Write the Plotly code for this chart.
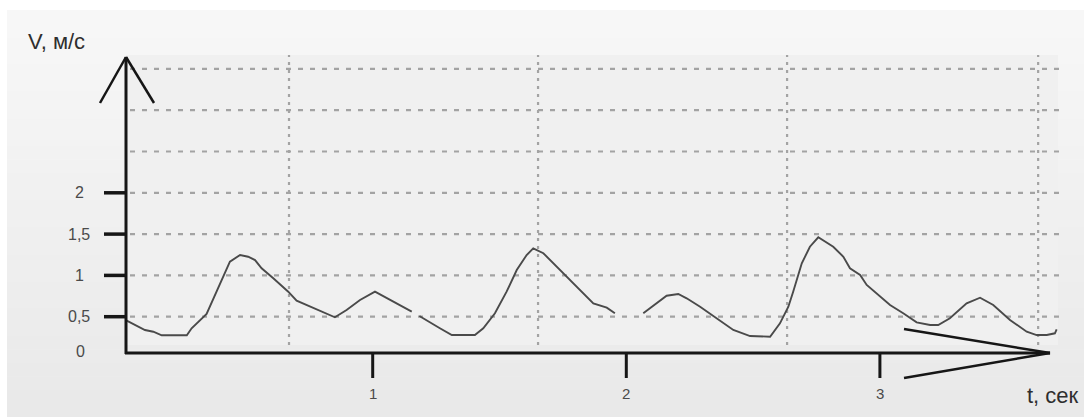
import plotly.graph_objects as go

# ---- data ----
T = [0.030, 0.056, 0.102, 0.135, 0.168, 0.267, 0.286, 0.345, 0.385, 0.411,
     0.437, 0.477, 0.509, 0.536, 0.562, 0.608, 0.667, 0.700, 0.766, 0.851,
     0.897, 0.950, 1.009, 1.081, 1.154, None,
     1.184, 1.213, 1.265, 1.312, 1.403, 1.436, 1.482, 1.528, 1.568, 1.607,
     1.633, 1.673, 1.726, 1.791, 1.870, 1.923, 1.955, None,
     2.067, 2.106, 2.159, 2.205, 2.238, 2.291, 2.343, 2.422, 2.488, 2.567,
     2.606, 2.639, 2.658, 2.692, 2.724, 2.757, 2.816, 2.856, 2.882, 2.922,
     2.948, 2.987, 3.040, 3.092, 3.145, 3.198, 3.230, 3.276, 3.342, 3.395,
     3.447, 3.513, 3.579, 3.618, 3.658, 3.690, 3.697]
V = [0.452, 0.408, 0.339, 0.318, 0.275, 0.275, 0.360, 0.533, 0.803, 0.984,
     1.166, 1.247, 1.226, 1.186, 1.086, 0.965, 0.803, 0.694, 0.602, 0.493,
     0.581, 0.702, 0.803, 0.682, 0.561, None,
     0.508, 0.452, 0.360, 0.278, 0.278, 0.360, 0.541, 0.803, 1.065, 1.247,
     1.328, 1.268, 1.105, 0.904, 0.662, 0.609, 0.541, None,
     0.541, 0.633, 0.754, 0.775, 0.723, 0.621, 0.512, 0.339, 0.266, 0.258,
     0.420, 0.621, 0.803, 1.146, 1.347, 1.461, 1.347, 1.226, 1.086, 1.005,
     0.884, 0.783, 0.642, 0.541, 0.432, 0.400, 0.400, 0.481, 0.662, 0.730,
     0.642, 0.460, 0.318, 0.278, 0.278, 0.299, 0.347]

X_TICKS = [1, 2, 3]
X_TICK_LABELS = ["1", "2", "3"]
Y_TICKS = [0.5, 1, 1.5, 2]
Y_TICK_LABELS = ["0,5", "1", "1,5", "2"]
ZERO_LABEL = "0"
GRID_V = [0.5, 1, 1.5, 2, 2.5, 3, 3.5]
GRID_T = [0.670, 1.652, 2.634, 3.624]
X_TITLE = "t, сек"
Y_TITLE = "V, м/с"

# ---- layout helpers ----
W, H = 1084, 417
X0PX, XSCALE = 119.1, 253.6   # pixel of t=0, pixels per second
Y0PX, YSCALE = 358.0, 82.6    # pixel of v=0, pixels per m/s
XRANGE = [(0 - X0PX) / XSCALE, (W - X0PX) / XSCALE]
YRANGE = [(Y0PX - H) / YSCALE, Y0PX / YSCALE]


def px(x):
    return x / W


def py(y):
    return 1 - y / H


FONT = "Liberation Sans, Arial, sans-serif"
AXIS_COL = "#161616"
GRID_COL = "#a3a3a3"

shapes = []
# white page + gray gradient panel
shapes.append(dict(type="rect", xref="paper", yref="paper", x0=0, x1=1, y0=0, y1=1,
                   fillcolor="white", line=dict(width=0), layer="below"))
N = 30
top, bot = 10, H
for i in range(N):
    y0 = top + (bot - top) * i / N
    y1 = top + (bot - top) * (i + 1) / N
    c = int(round(247 - (247 - 233) * i / (N - 1)))
    shapes.append(dict(type="rect", xref="paper", yref="paper",
                       x0=px(7), x1=1, y0=py(y1 + 0.5), y1=py(y0),
                       fillcolor=f"rgb({c},{c},{c})", line=dict(width=0), layer="below"))
# plot area
shapes.append(dict(type="rect", xref="paper", yref="paper",
                   x0=px(126), x1=px(1058), y0=py(345), y1=py(55),
                   fillcolor="#f0f0f0", line=dict(width=0), layer="below"))
# grid lines
for g in GRID_V:
    shapes.append(dict(type="line", xref="paper", yref="y", x0=px(130), x1=px(1060),
                       y0=g, y1=g, line=dict(color=GRID_COL, width=2.2, dash="5px,7px"),
                       layer="below"))
for g in GRID_T:
    shapes.append(dict(type="line", xref="x", yref="paper", x0=g, x1=g,
                       y0=py(345), y1=py(55), line=dict(color=GRID_COL, width=2.2, dash="3px,5px"),
                       layer="below"))

# axes (drawn as arrows)
AX_Y = 353  # pixel row of the time axis
AX_X = 126  # pixel column of the speed axis
shapes += [
    dict(type="line", xref="paper", yref="paper", x0=px(AX_X), x1=px(AX_X), y0=py(AX_Y + 1), y1=py(57),
         line=dict(color=AXIS_COL, width=3)),
    dict(type="line", xref="paper", yref="paper", x0=px(AX_X), x1=px(100), y0=py(57), y1=py(103),
         line=dict(color=AXIS_COL, width=2.5)),
    dict(type="line", xref="paper", yref="paper", x0=px(AX_X), x1=px(154), y0=py(57), y1=py(103),
         line=dict(color=AXIS_COL, width=2.5)),
    dict(type="line", xref="paper", yref="paper", x0=px(AX_X - 1), x1=px(1050), y0=py(AX_Y), y1=py(AX_Y),
         line=dict(color=AXIS_COL, width=3)),
    dict(type="line", xref="paper", yref="paper", x0=px(904), x1=px(1050), y0=py(329), y1=py(AX_Y),
         line=dict(color=AXIS_COL, width=2.5)),
    dict(type="line", xref="paper", yref="paper", x0=px(904), x1=px(1050), y0=py(378), y1=py(AX_Y),
         line=dict(color=AXIS_COL, width=2.5)),
]
for t in X_TICKS:
    shapes.append(dict(type="line", xref="x", yref="paper", x0=t, x1=t, y0=py(AX_Y), y1=py(378),
                       line=dict(color=AXIS_COL, width=3)))
for v in Y_TICKS:
    shapes.append(dict(type="line", xref="paper", yref="y", x0=px(104), x1=px(AX_X), y0=v, y1=v,
                       line=dict(color=AXIS_COL, width=3.5)))

annotations = []
for t, lab in zip(X_TICKS, X_TICK_LABELS):
    annotations.append(dict(xref="x", yref="paper", x=t, y=py(393), text=lab, showarrow=False,
                            xanchor="center", yanchor="middle",
                            font=dict(family=FONT, size=15, color="#4a4a4a")))
for v, lab in zip(Y_TICKS, Y_TICK_LABELS):
    annotations.append(dict(xref="paper", yref="y", x=px(79), y=v, text=lab, showarrow=False,
                            xanchor="center", yanchor="middle",
                            font=dict(family=FONT, size=16, color="#4a4a4a")))
annotations.append(dict(xref="paper", yref="paper", x=px(80), y=py(351), text=ZERO_LABEL, showarrow=False,
                        xanchor="center", yanchor="middle",
                        font=dict(family=FONT, size=16, color="#4a4a4a")))
annotations.append(dict(xref="paper", yref="paper", x=px(26), y=py(41), text=Y_TITLE, showarrow=False,
                        xanchor="left", yanchor="middle",
                        font=dict(family=FONT, size=22, color="#2e2e2e")))
annotations.append(dict(xref="paper", yref="paper", x=px(1081), y=py(395), text=X_TITLE, showarrow=False,
                        xanchor="right", yanchor="middle",
                        font=dict(family=FONT, size=22, color="#2e2e2e")))

fig = go.Figure()
fig.add_trace(go.Scatter(x=T, y=V, mode="lines", connectgaps=False,
                         line=dict(color="#4a4a4a", width=1.9), hoverinfo="skip"))

fig.update_layout(
    width=W, height=H,
    margin=dict(l=0, r=0, t=0, b=0),
    paper_bgcolor="white", plot_bgcolor="rgba(0,0,0,0)",
    showlegend=False,
    xaxis=dict(range=XRANGE, visible=False, fixedrange=True),
    yaxis=dict(range=YRANGE, visible=False, fixedrange=True),
    shapes=shapes, annotations=annotations,
)

fig.write_html("out.html", config={"displayModeBar": False},
               post_script="document.body.style.margin='0';document.body.style.overflow='hidden';")
